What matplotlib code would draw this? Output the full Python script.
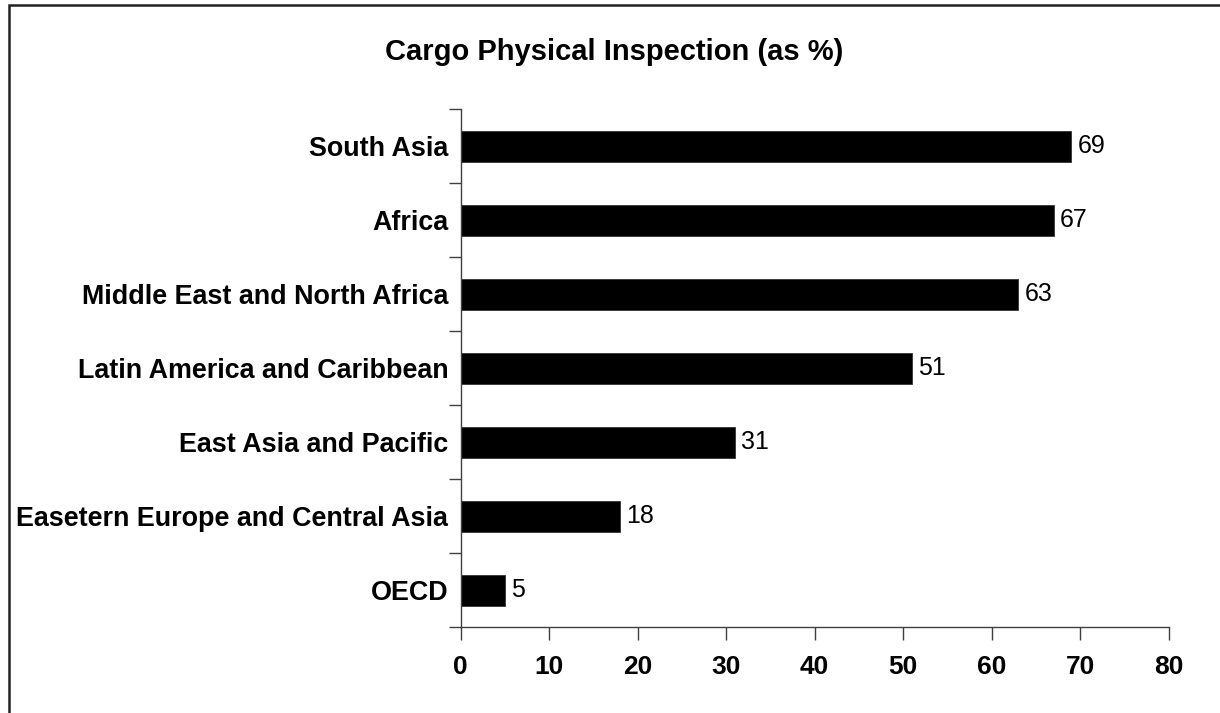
import matplotlib
matplotlib.use("Agg")
import matplotlib.pyplot as plt
from matplotlib.patches import Rectangle
import numpy as np

categories = ["South Asia", "Africa", "Middle East and North Africa",
              "Latin America and Caribbean", "East Asia and Pacific",
              "Easetern Europe and Central Asia", "OECD"]
values = [69, 67, 63, 51, 31, 18, 5]
xticks = [0, 10, 20, 30, 40, 50, 60, 70, 80]
title = "Cargo Physical Inspection (as %)"

plt.rcParams['font.family'] = ['Liberation Sans', 'DejaVu Sans']

W, H = 1220, 713
fig = plt.figure(figsize=(W / 100, H / 100), dpi=100)
fig.patch.set_facecolor('white')

# outer frame (only top & left visible in reference)
fig.add_artist(Rectangle((8.5 / W, -0.1), 1.2, 1.1 - 5.5 / H,
                         transform=fig.transFigure, fill=False,
                         edgecolor='#222222', linewidth=1.8))

x0, x1 = 460.7, 1168.7
yt, yb = 109.3, 627.3
ax = fig.add_axes([x0 / W, 1 - yb / H, (x1 - x0) / W, (yb - yt) / H])

n = len(categories)
pos = np.arange(n)
ax.barh(pos, values, height=0.42, color='black', edgecolor='#333333', linewidth=0.6)
ax.set_ylim(n - 0.5, -0.5)
ax.set_xlim(0, 80)

for p, v in zip(pos, values):
    ax.text(v + 0.7, p, str(v), va='center', ha='left', fontsize=18, color='black')

ax.set_xticks(xticks)
ax.set_xticklabels([str(t) for t in xticks], fontsize=19, fontweight='bold')
ax.tick_params(axis='x', direction='out', length=9, width=1, color='#404040', pad=11)

ax.set_yticks(np.arange(-0.5, n, 1.0))
ax.set_yticklabels([])
ax.tick_params(axis='y', which='major', direction='out', length=9, width=1, color='#404040')
ax.set_yticks(pos, minor=True)
ax.set_yticklabels(categories, minor=True, fontsize=19.4, fontweight='bold')
ax.tick_params(axis='y', which='minor', length=0, pad=9)

for s in ['top', 'right']:
    ax.spines[s].set_visible(False)
for s in ['left', 'bottom']:
    ax.spines[s].set_color('#404040')
    ax.spines[s].set_linewidth(1)

fig.text(614 / W, 1 - 52 / H, title, ha='center', va='center', fontsize=21, fontweight='bold')

fig.savefig('out.png', dpi=100, facecolor='white')
